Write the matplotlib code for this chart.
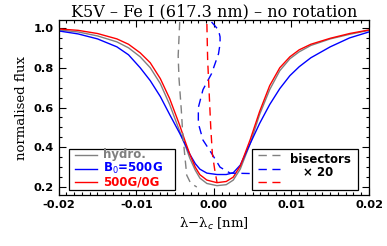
import matplotlib
matplotlib.use("Agg")
import matplotlib.pyplot as plt
from matplotlib.ticker import MultipleLocator, FormatStrFormatter
from matplotlib.patches import Rectangle
from matplotlib.lines import Line2D

# ---- data ----
prof_x = [-0.020, -0.0175, -0.015, -0.0125, -0.011, -0.0095, -0.0082, -0.0069,
          -0.0057, -0.0044, -0.0037, -0.0031, -0.0024, -0.0018, -0.0009, 0.0004,
          0.0016, 0.0025, 0.0034, 0.0047, 0.0059, 0.0072, 0.0085, 0.0098,
          0.011, 0.0125, 0.015, 0.0175, 0.020]
hydro = [0.99, 0.98, 0.96, 0.93, 0.90, 0.855, 0.80, 0.72,
         0.615, 0.48, 0.41, 0.345, 0.285, 0.245, 0.218, 0.207,
         0.212, 0.235, 0.29, 0.42, 0.565, 0.69, 0.785, 0.845,
         0.88, 0.912, 0.945, 0.968, 0.988]
b500 = [0.985, 0.97, 0.945, 0.905, 0.865, 0.80, 0.735, 0.655,
        0.565, 0.47, 0.415, 0.365, 0.318, 0.29, 0.27, 0.263,
        0.263, 0.272, 0.31, 0.42, 0.52, 0.615, 0.695, 0.76,
        0.805, 0.85, 0.905, 0.95, 0.98]
b500_0 = [0.995, 0.988, 0.972, 0.945, 0.918, 0.875, 0.825, 0.745,
          0.645, 0.51, 0.43, 0.365, 0.30, 0.262, 0.235, 0.222,
          0.228, 0.25, 0.305, 0.44, 0.58, 0.71, 0.80, 0.855,
          0.89, 0.918, 0.948, 0.972, 0.99]

bis_hydro_x = [-0.0044, -0.0046, -0.0045, -0.0042, -0.0040, -0.0037, -0.0035, -0.0030, -0.0022]
bis_hydro_y = [1.03, 0.86, 0.75, 0.59, 0.46, 0.34, 0.26, 0.22, 0.20]
bis_b500_x = [-0.0003, 0.0006, 0.0008, 0.0008, 0.0006, -0.0003, -0.0014, -0.0020,
              -0.0020, -0.0014, -0.0003, 0.0008, 0.0021, 0.0047]
bis_b500_y = [1.03, 0.99, 0.955, 0.92, 0.87, 0.77, 0.69, 0.60,
              0.52, 0.436, 0.37, 0.30, 0.27, 0.268]
bis_b500_0_x = [-0.0009, -0.0008, -0.0007, -0.0004, -0.0002, 0.0001, 0.0004]
bis_b500_0_y = [1.02, 0.84, 0.754, 0.50, 0.37, 0.29, 0.225]

labels = ["hydro.", "B$_0$=500G", "500G/0G"]
colors = ["#808080", "#0000ff", "#ff0000"]

# ---- figure ----
fig = plt.figure(figsize=(3.87, 2.46), dpi=100)
ax = fig.add_axes([0.1517, 0.2073, 0.8018, 0.7114])

lw = 1.0
dash = (0, (6, 4))
for y, c in zip([hydro, b500, b500_0], colors):
    ax.plot(prof_x, y, color=c, lw=lw)
for bx, by, c in zip([bis_hydro_x, bis_b500_x, bis_b500_0_x],
                     [bis_hydro_y, bis_b500_y, bis_b500_0_y], colors):
    ax.plot(bx, by, color=c, lw=lw, linestyle=dash)

ax.set_xlim(-0.02, 0.02)
ax.set_ylim(0.16, 1.04)
ax.xaxis.set_major_locator(MultipleLocator(0.01))
ax.xaxis.set_minor_locator(MultipleLocator(0.001))
ax.yaxis.set_major_locator(MultipleLocator(0.2))
ax.yaxis.set_minor_locator(MultipleLocator(0.05))
ax.xaxis.set_major_formatter(FormatStrFormatter("%.2f"))
ax.yaxis.set_major_formatter(FormatStrFormatter("%.1f"))
ax.tick_params(which="both", direction="in", top=True, right=True, width=0.8)
ax.tick_params(which="major", length=5)
ax.tick_params(which="minor", length=2.5)
for lab in ax.get_xticklabels() + ax.get_yticklabels():
    lab.set_fontfamily("DejaVu Sans")
    lab.set_fontweight("bold")
    lab.set_fontsize(8.2)
for s in ax.spines.values():
    s.set_linewidth(0.9)

ax.set_title("K5V \u2013 Fe I (617.3 nm) \u2013 no rotation", family="DejaVu Serif",
             fontsize=11.5, pad=2)
ax.set_ylabel("normalised flux", family="DejaVu Serif", fontsize=9.5, labelpad=4)
ax.set_xlabel("\u03bb\u2212\u03bb$_c$ [nm]", family="DejaVu Serif", fontsize=9.5, labelpad=4)

# ---- left legend ----
ax.add_patch(Rectangle((0.033, 0.026), 0.342, 0.237, transform=ax.transAxes,
                       fill=True, facecolor="white", edgecolor="black", lw=0.9, zorder=5))
rows = [0.229, 0.149, 0.074]
for ry, lab, c in zip(rows, labels, colors):
    ax.add_line(Line2D([0.053, 0.123], [ry, ry], transform=ax.transAxes,
                       color=c, lw=lw, zorder=6))
    ax.text(0.143, ry, lab, transform=ax.transAxes, color=c, fontsize=8.5,
            fontweight="bold", family="DejaVu Sans", va="center", ha="left", zorder=6)

# ---- right legend ----
ax.add_patch(Rectangle((0.623, 0.026), 0.342, 0.237, transform=ax.transAxes,
                       fill=True, facecolor="white", edgecolor="black", lw=0.9, zorder=5))
for ry, c in zip(rows, colors):
    ax.add_line(Line2D([0.643, 0.713], [ry, ry], transform=ax.transAxes,
                       color=c, lw=lw, linestyle=dash, zorder=6))
ax.text(0.845, 0.205, "bisectors", transform=ax.transAxes, fontsize=8.5,
        fontweight="bold", family="DejaVu Sans", ha="center", va="center", zorder=6)
ax.text(0.835, 0.13, "\u00d7 20", transform=ax.transAxes, fontsize=8.5,
        fontweight="bold", family="DejaVu Sans", ha="center", va="center", zorder=6)

fig.savefig("out.png", dpi=100)
